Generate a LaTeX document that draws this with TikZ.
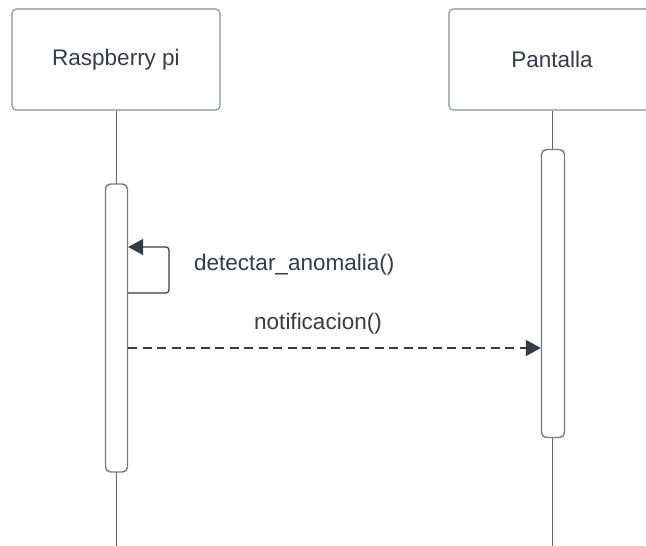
\documentclass[tikz,border=0pt]{standalone}
\usepackage{fontspec}
\setmainfont{Liberation Sans}
\usetikzlibrary{arrows.meta}
\definecolor{txt}{HTML}{333D47}
\definecolor{boxc}{HTML}{8A8F94}
\definecolor{lifec}{HTML}{5F6368}
\begin{document}
\begin{tikzpicture}[x=1pt,y=-1pt,
  header/.style={draw=boxc,line width=1.1pt,rounded corners=4pt,fill=white,
    minimum width=208pt,minimum height=101pt,inner sep=0pt,
    font=\fontsize{22.5}{27}\selectfont,text=txt},
  actbox/.style={draw=boxc!85!black,line width=1.4pt,rounded corners=5pt,fill=white,
    minimum width=22pt,inner sep=0pt},
  lifeline/.style={draw=lifec,line width=1pt},
  msg/.style={draw=txt,line width=1.2pt,-{Triangle[length=15pt,width=16pt]}},
  lbl/.style={font=\fontsize{22.5}{27}\selectfont,text=txt,inner sep=0pt}]
\clip (0,0) rectangle (646,546);
\fill[white] (0,0) rectangle (646,546);
\node[header] (h1) at (116,59.5) {Raspberry pi};
\node[header,minimum width=206pt] (h2) at (552,59.5) {Pantalla};
\coordinate (e1) at (116,546);
\coordinate (e2) at (552,546);
\draw[lifeline] (h1.south) -- (e1);
\draw[lifeline] (h2.south) -- (e2);
\node[actbox,minimum height=288pt] (a1) at (116.5,328) {};
\node[actbox,minimum height=288pt,minimum width=23pt] (a2) at (553,293.5) {};
\coordinate (s1) at (169,293);
\coordinate (s2) at (169,247);
\draw[msg,rounded corners=3pt] (a1.east |- s1) -- (s1) -- (s2) -- (a1.east |- s2);
\node[lbl,anchor=west] (l1) at (194,265) {detectar\_anomalia()};
\coordinate (m) at (0,348);
\draw[msg,dash pattern=on 9pt off 5.5pt] (a1.east |- m) -- (a2.west |- m);
\node[lbl] (l2) at (318,324) {notificacion()};
\end{tikzpicture}
\end{document}
